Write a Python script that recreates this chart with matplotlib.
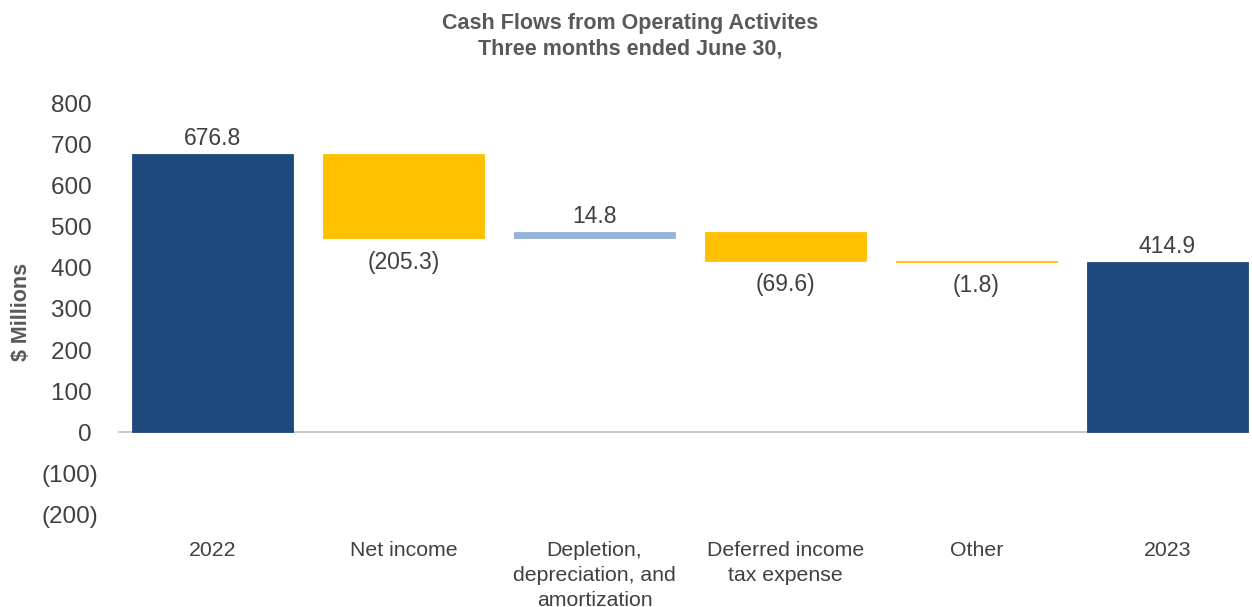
import matplotlib
matplotlib.use("Agg")
import matplotlib.pyplot as plt
import numpy as np

plt.rcParams['font.family'] = ['Liberation Sans', 'DejaVu Sans']

categories = ["2022", "Net income", "Depletion,\ndepreciation, and\namortization",
              "Deferred income\ntax expense", "Other", "2023"]
changes = [676.8, -205.3, 14.8, -69.6, -1.8, 414.9]
is_total = [True, False, False, False, False, True]
yticks = [-200, -100, 0, 100, 200, 300, 400, 500, 600, 700, 800]

c_total = "#1F497D"
c_neg = "#FFC000"
c_pos = "#95B3D7"
txt = "#404040"

fig = plt.figure(figsize=(12.52, 6.07), dpi=100)
ax = fig.add_axes([0.094, 0.152, 0.904, 0.678])

x = np.arange(len(categories))
running = 0.0
for i, (v, tot) in enumerate(zip(changes, is_total)):
    if tot:
        bottom, height, col = 0, v, c_total
        running = v
    else:
        bottom, height = running, v
        col = c_neg if v < 0 else c_pos
        running += v
    ax.bar(x[i], height, bottom=bottom, width=0.84, color=col, edgecolor=col,
           linewidth=0.6, zorder=2)
    top = max(bottom, bottom + height)
    low = min(bottom, bottom + height)
    if v >= 0:
        ax.annotate(f"{abs(v):.1f}", (x[i], top), xytext=(0, 3), textcoords="offset points",
                    ha="center", va="bottom", fontsize=16.5, color=txt)
    else:
        ax.annotate(f"({abs(v):.1f})", (x[i], low), xytext=(0, -9), textcoords="offset points",
                    ha="center", va="top", fontsize=16.5, color=txt)

ax.set_xlim(-0.497, 5.43)
ax.set_ylim(-200, 800)
ax.set_yticks(yticks)
ax.set_yticklabels([f"({abs(t)})" if t < 0 else f"{t} " for t in yticks], fontsize=17.5, color=txt)
ax.set_xticks(x)
ax.set_xticklabels(categories, fontsize=15.3, color=txt, linespacing=1.38)
ax.tick_params(axis='both', length=0)
ax.tick_params(axis='x', pad=19)
ax.tick_params(axis='y', pad=14)
for s in ax.spines.values():
    s.set_visible(False)
ax.axhline(0, color="#BFBFBF", lw=1.2, zorder=1)

fig.text(22 / 1252, 0.486, "$ Millions", rotation=90, ha="center", va="center",
         fontsize=15.5, fontweight="bold", color="#595959")

fig.text(0.503, 0.978, "Cash Flows from Operating Activites\nThree months ended June 30,",
         ha="center", va="top", fontsize=15.5, fontweight="bold", color="#595959", linespacing=1.25)

fig.savefig("out.png", dpi=100)
